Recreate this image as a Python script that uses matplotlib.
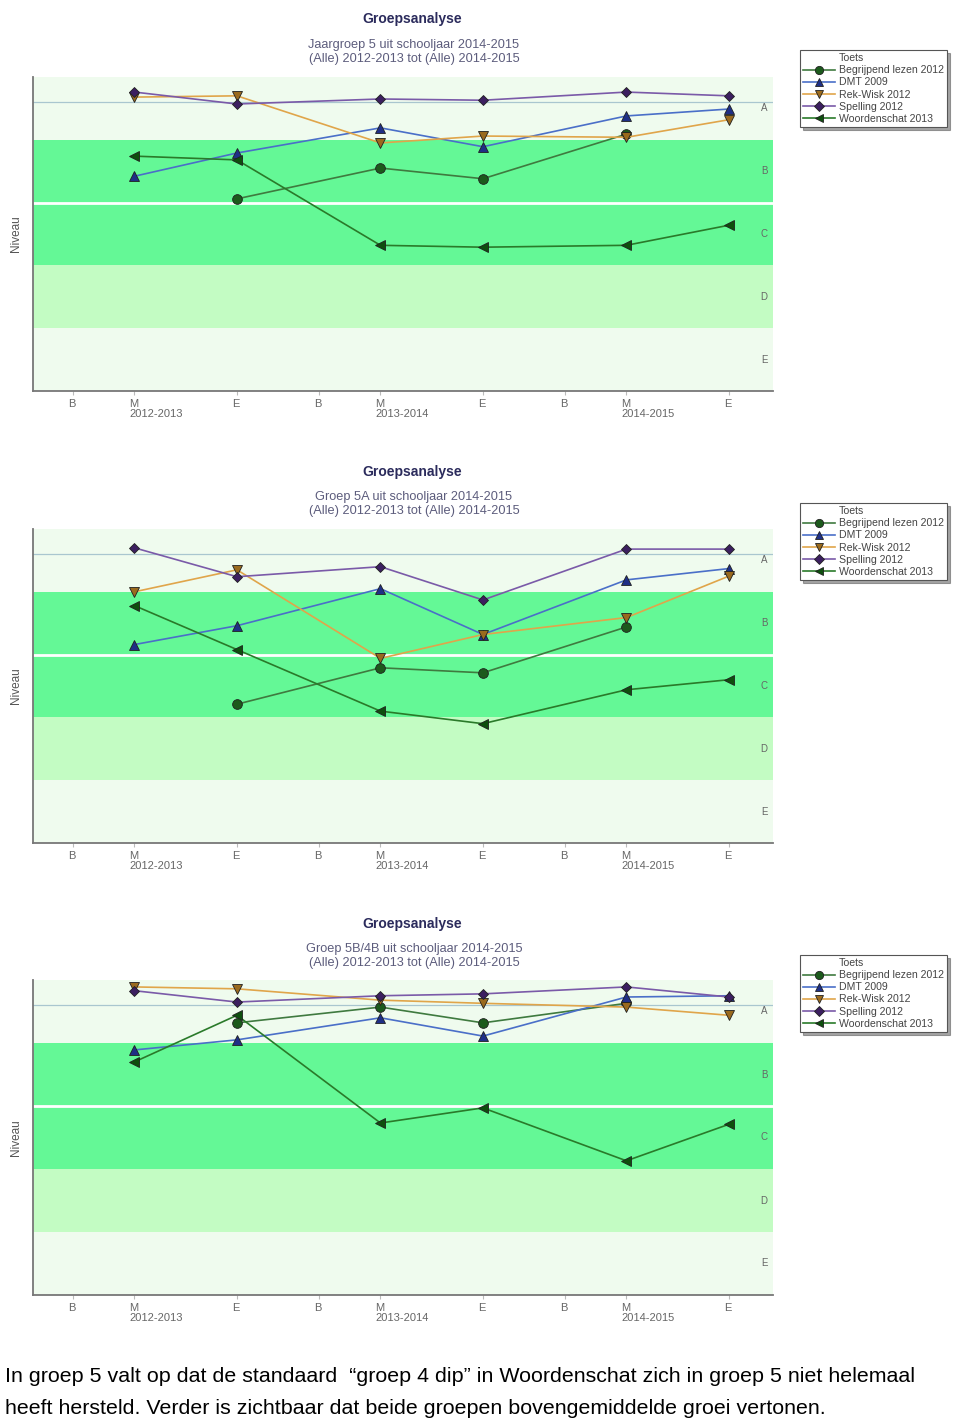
import matplotlib
matplotlib.use('Agg')
import numpy as np
import matplotlib.pyplot as plt
import matplotlib.transforms as mtransforms
from matplotlib.lines import Line2D

plt.rcParams['font.family'] = ['Liberation Sans', 'DejaVu Sans']

nan = np.nan

# ---------------- data ----------------
# x axis: months since September 2012 (B = begin/Oct, M = midden/Jan, E = eind/Jun)
tick_months = [1, 4, 9, 13, 16, 21, 25, 28, 33]
tick_labels = ['B', 'M\n2012-2013', 'E', 'B', 'M\n2013-2014', 'E', 'B', 'M\n2014-2015', 'E']
measure_months = [4, 9, 16, 21, 28, 33]

levels = ['A', 'B', 'C', 'D', 'E']
level_centers = [4.5, 3.5, 2.5, 1.5, 0.5]
reference_level = 4.6

series_names = ['Begrijpend lezen 2012', 'DMT 2009', 'Rek-Wisk 2012',
                'Spelling 2012', 'Woordenschat 2013']

panel_titles = ['Groepsanalyse', 'Groepsanalyse', 'Groepsanalyse']
panel_subtitles = ['Jaargroep 5 uit schooljaar 2014-2015\n(Alle) 2012-2013 tot (Alle) 2014-2015',
                   'Groep 5A uit schooljaar 2014-2015\n(Alle) 2012-2013 tot (Alle) 2014-2015',
                   'Groep 5B/4B uit schooljaar 2014-2015\n(Alle) 2012-2013 tot (Alle) 2014-2015']

# panel 1: Jaargroep 5
p1_begrijpend = [nan, 3.06, 3.55, 3.38, 4.09, nan]
p1_dmt = [3.42, 3.79, 4.19, 3.89, 4.38, 4.49]
p1_rekwisk = [4.68, 4.70, 3.95, 4.06, 4.04, 4.32]
p1_spelling = [4.76, 4.57, 4.65, 4.63, 4.76, 4.70]
p1_woordenschat = [3.74, 3.68, 2.32, 2.29, 2.32, 2.64]

# panel 2: Groep 5A
p2_begrijpend = [nan, 2.21, 2.79, 2.71, 3.44, nan]
p2_dmt = [3.16, 3.46, 4.05, 3.32, 4.19, 4.37]
p2_rekwisk = [4.00, 4.35, 2.94, 3.32, 3.59, 4.25]
p2_spelling = [4.70, 4.24, 4.40, 3.87, 4.68, 4.68]
p2_woordenschat = [3.78, 3.08, 2.10, 1.90, 2.44, 2.60]

# panel 3: Groep 5B/4B
p3_begrijpend = [nan, 4.32, 4.57, 4.32, 4.63, nan]
p3_dmt = [3.89, 4.05, 4.40, 4.11, 4.73, 4.75]
p3_rekwisk = [4.89, 4.86, 4.68, 4.63, 4.57, 4.44]
p3_spelling = [4.83, 4.65, 4.75, 4.78, 4.89, 4.73]
p3_woordenschat = [3.70, 4.44, 2.73, 2.97, 2.13, 2.71]

caption_lines = ['In groep 5 valt op dat de standaard  \u201cgroep 4 dip\u201d in Woordenschat zich in groep 5 niet helemaal',
                 'heeft hersteld. Verder is zichtbaar dat beide groepen bovengemiddelde groei vertonen.']

# ---------------- style ----------------
line_colors = ['#3f7a3f', '#4a6fc8', '#e0a54a', '#7a5aa8', '#2a7a2a']
marker_faces = ['#1c5a1c', '#1f2f86', '#9a6a1e', '#3c1f60', '#0e4f0e']
markers = ['o', '^', 'v', 'D', '<']
marker_sizes = [7, 7, 7, 5.5, 7]

band_light = '#effbee'
band_mid = '#c3fcc3'
band_bright = '#64f896'

panels = [
    [p1_begrijpend, p1_dmt, p1_rekwisk, p1_spelling, p1_woordenschat],
    [p2_begrijpend, p2_dmt, p2_rekwisk, p2_spelling, p2_woordenschat],
    [p3_begrijpend, p3_dmt, p3_rekwisk, p3_spelling, p3_woordenschat],
]

W, H = 960, 1420
fig = plt.figure(figsize=(W / 100, H / 100), dpi=100)

ax_left, ax_right = 33, 773
panel_tops = [77, 529, 980]
panel_bottoms = [391, 843, 1295]
title_y = [19, 472, 924]
sub_y = [52, 504, 956]
legend_top = [50, 503, 955]

grey = '#666666'

for i, data in enumerate(panels):
    top, bot = panel_tops[i], panel_bottoms[i]
    ax = fig.add_axes([ax_left / W, 1 - bot / H, (ax_right - ax_left) / W, (bot - top) / H])
    ax.set_xlim(-0.95, 35.15)
    ax.set_ylim(0, 5)
    ax.set_facecolor('white')

    ax.axhspan(4, 5, color=band_light, lw=0, zorder=0)
    ax.axhspan(2, 4, color=band_bright, lw=0, zorder=0)
    ax.axhspan(1, 2, color=band_mid, lw=0, zorder=0)
    ax.axhspan(0, 1, color=band_light, lw=0, zorder=0)
    ax.axhline(3, color='white', lw=2, zorder=1)
    ax.axhline(reference_level, color='#a9c6cf', lw=0.9, zorder=1)

    series_lines = []
    for k, vals in enumerate(data):
        ln, = ax.plot(measure_months, vals, color=line_colors[k], lw=1.2,
                      marker=markers[k], ms=marker_sizes[k], mfc=marker_faces[k],
                      mec='#202020', mew=0.6, zorder=3 + k, label=series_names[k])
        series_lines.append(ln)

    trans = mtransforms.blended_transform_factory(ax.transAxes, ax.transData)
    for lab, yc in zip(levels, level_centers):
        ax.text(0.988, yc, lab, transform=trans, ha='center', va='center',
                fontsize=7, color=grey)

    for s in ['top', 'right']:
        ax.spines[s].set_visible(False)
    for s in ['left', 'bottom']:
        ax.spines[s].set_color('#777777')
        ax.spines[s].set_linewidth(1.3)

    ax.set_yticks([])
    ax.set_xticks(tick_months)
    ax.set_xticklabels(tick_labels, fontsize=8, color=grey, linespacing=0.95)
    ax.tick_params(axis='x', length=3, color='#bbbbbb', pad=3)
    offset = mtransforms.ScaledTranslation(-5 / 100, 0, fig.dpi_scale_trans)
    for lbl in ax.get_xticklabels():
        lbl.set_horizontalalignment('left')
        lbl.set_multialignment('left')
        lbl.set_transform(lbl.get_transform() + offset)

    ax.set_ylabel('Niveau', fontsize=8.5, color='#555555', labelpad=8)

    fig.text(412 / W, 1 - title_y[i] / H, panel_titles[i], ha='center', va='center',
             fontsize=10, fontweight='bold', color='#2b2b5c')
    fig.text(414 / W, 1 - sub_y[i] / H, panel_subtitles[i], ha='center', va='center',
             fontsize=9.2, color='#5c5c7c', linespacing=1.15)

    handles = [Line2D([], [], linestyle='none')] + series_lines
    labels = ['Toets'] + series_names
    leg = fig.legend(handles, labels, loc='upper left',
                     bbox_to_anchor=(800 / W, 1 - legend_top[i] / H),
                     fontsize=7.6, frameon=True, fancybox=False, shadow=True,
                     handlelength=3.0, handletextpad=0.4, labelspacing=0.2,
                     borderpad=0.3, borderaxespad=0, markerscale=0.85)
    leg.get_frame().set_edgecolor('#555555')
    leg.get_frame().set_linewidth(0.8)
    for t in leg.get_texts():
        t.set_color('#444444')

fig.text(5 / W, 1 - 1376 / H, caption_lines[0], ha='left', va='center',
         fontsize=15.4, color='black')
fig.text(5 / W, 1 - 1408 / H, caption_lines[1], ha='left', va='center',
         fontsize=15.4, color='black')

fig.savefig('out.png', dpi=100)
